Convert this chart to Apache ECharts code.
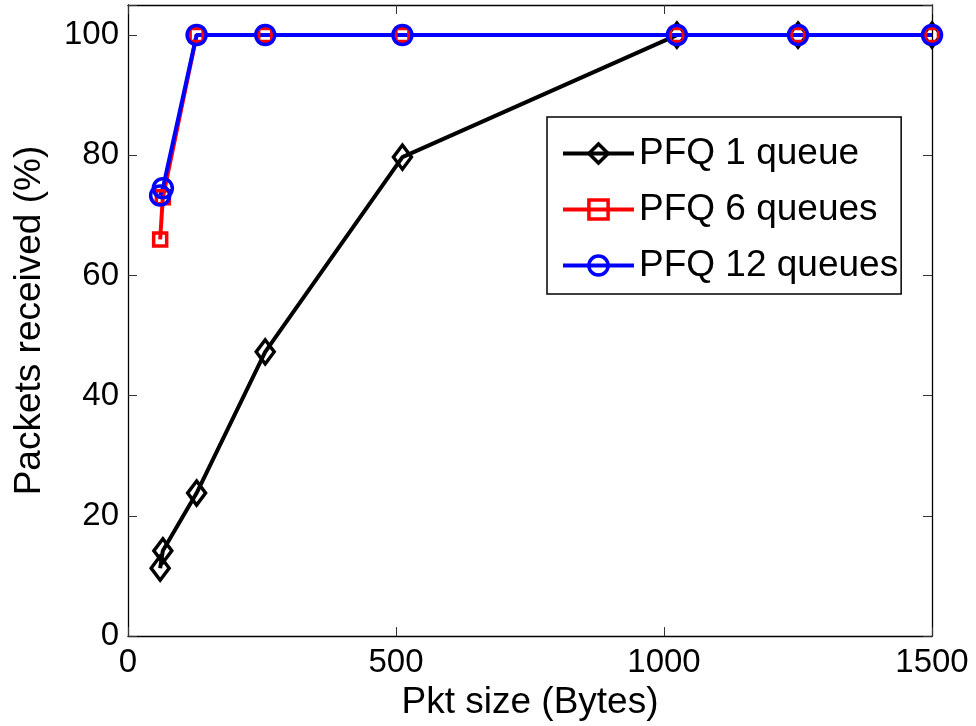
<!DOCTYPE html>
<html>
<head>
<meta charset="utf-8">
<script src="https://cdn.jsdelivr.net/npm/echarts@6/dist/echarts.min.js"></script>
<style>
html,body{margin:0;padding:0;background:#fff;}
#chart{width:976px;height:726px;}
</style>
</head>
<body>
<div id="chart"></div>
<script>
const xValues = [60, 65, 128, 256, 512, 1024, 1250, 1500];
const pfq1Queue = [11.3, 14.2, 23.8, 47.3, 79.7, 100, 100, 100];
const pfq6Queues = [66, 73, 100, 100, 100, 100, 100, 100];
const pfq12Queues = [73.3, 74.5, 100, 100, 100, 100, 100, 100];
const seriesNames = ['PFQ 1 queue', 'PFQ 6 queues', 'PFQ 12 queues'];
const xTitle = 'Pkt size (Bytes)';
const yTitle = 'Packets received (%)';

const FONT = 'Liberation Sans';
function pairs(ys) { return xValues.map((x, i) => [x, ys[i]]); }

const chart = echarts.init(document.getElementById('chart'), null, {renderer: 'canvas'});
const axisLine = {show: true, onZero: false, lineStyle: {color: '#000', width: 1.3}};
const axisTick = {show: true, inside: true, length: 9, lineStyle: {color: '#333', width: 1}};

function mk(name, data, color, symbol, size) {
  return {
    name: name, type: 'line', data: data, xAxisIndex: 0, yAxisIndex: 0,
    symbol: symbol, symbolSize: size, showAllSymbol: true,
    lineStyle: {color: color, width: 4},
    itemStyle: {color: 'transparent', borderColor: color, borderWidth: 3.5},
    emphasis: {disabled: true},
    animation: false
  };
}

chart.setOption({
  animation: false,
  backgroundColor: '#fff',
  grid: {left: 128, right: 44, top: 5, bottom: 88, containLabel: false},
  legend: {
    left: 547, top: 117,
    orient: 'vertical',
    data: seriesNames,
    itemWidth: 71, itemHeight: 24, itemGap: 19,
    padding: [18, 3, 10, 14],
    borderColor: '#000', borderWidth: 1.5,
    backgroundColor: '#fff',
    lineStyle: {width: 4},
    itemStyle: {borderWidth: 3.5},
    textStyle: {fontFamily: FONT, fontSize: 37, color: '#000', padding: [0, 0, 0, 0]},
    selectedMode: false
  },
  xAxis: [{
    type: 'value', min: 0, max: 1500, interval: 500,
    name: xTitle, nameLocation: 'middle', nameGap: 46,
    nameTextStyle: {fontFamily: FONT, fontSize: 37, color: '#000'},
    axisLine: axisLine, axisTick: axisTick,
    axisLabel: {fontFamily: FONT, fontSize: 33, color: '#000', margin: 10,
      formatter: v => String(v)},
    splitLine: {show: false}
  }, {
    type: 'value', min: 0, max: 1500, interval: 500, position: 'top',
    axisLine: axisLine, axisTick: axisTick, axisLabel: {show: false}, splitLine: {show: false}
  }],
  yAxis: [{
    type: 'value', min: 0, max: 105, interval: 20,
    name: yTitle, nameLocation: 'middle', nameGap: 80, nameRotate: 90,
    nameTextStyle: {fontFamily: FONT, fontSize: 37, color: '#000'},
    axisLine: axisLine, axisTick: axisTick,
    axisLabel: {fontFamily: FONT, fontSize: 33, color: '#000', margin: 9,
      formatter: v => (v % 20 === 0 ? String(v) : '')},
    splitLine: {show: false}
  }, {
    type: 'value', min: 0, max: 105, interval: 20, position: 'right',
    axisLine: axisLine, axisTick: axisTick, axisLabel: {show: false}, splitLine: {show: false}
  }],
  series: [
    mk(seriesNames[0], pairs(pfq1Queue), '#000000', 'diamond', [18, 24]),
    mk(seriesNames[1], pairs(pfq6Queues), '#ff0000', 'rect', 13),
    mk(seriesNames[2], pairs(pfq12Queues), '#0000ff', 'circle', 19)
  ]
});
</script>
</body>
</html>
